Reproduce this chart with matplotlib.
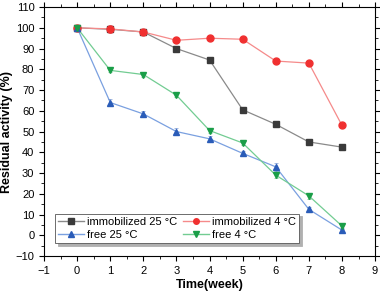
import matplotlib
matplotlib.use("Agg")
import matplotlib.pyplot as plt
from matplotlib.ticker import MultipleLocator

plt.rcParams['font.family'] = ['Liberation Sans', 'DejaVu Sans']

# --- DATA ---
weeks = [0, 1, 2, 3, 4, 5, 6, 7, 8]
immob_25 = [100, 99.3, 98, 90, 84.5, 60.5, 53.5, 45, 42.5]
immob_4 = [100, 99.5, 98, 94, 95, 94.5, 84, 83, 53]
free_25 = [100, 64, 58.5, 50, 46.5, 39.5, 33, 12.5, 2.5]
free_4 = [100, 79.5, 77.5, 67.5, 50.5, 44.5, 29, 19, 4.5]
err_immob_25 = [1, 1.5, 1.5, 1, 1, 1, 1, 1, 1.5]
err_immob_4 = [1, 2, 1.5, 1.5, 1, 1, 1, 1, 1]
err_free_25 = [1.5, 1.5, 1.5, 1.5, 1.5, 1, 2, 1, 1]
err_free_4 = [1, 1, 1, 1, 1, 1, 1.5, 1.5, 1.5]

series = [
    ('immobilized 25 °C', immob_25, err_immob_25, 's', '#3a3a3a', '#8a8a8a'),
    ('immobilized 4 °C', immob_4, err_immob_4, 'o', '#f03030', '#f58a8a'),
    ('free 25 °C', free_25, err_free_25, '^', '#2a5cb8', '#7aa0e0'),
    ('free 4 °C', free_4, err_free_4, 'v', '#1a9e48', '#72cc92'),
]

fig = plt.figure(figsize=(3.8, 2.96), dpi=100)
ax = fig.add_axes([0.116, 0.135, 0.871, 0.841])

handles = {}
for label, vals, err, mk, mc, lc in series:
    ax.plot(weeks, vals, color=lc, lw=0.9, zorder=2)
    ax.errorbar(weeks, vals, yerr=err, fmt='none', ecolor=mc, elinewidth=0.6,
                capsize=1.5, capthick=0.6, alpha=0.5, zorder=3)
    ax.plot(weeks, vals, ls='none', marker=mk, ms=5, color=mc, zorder=4)
    h, = ax.plot([], [], color=lc, lw=1.0, marker=mk, ms=4, mfc=mc, mec=mc, label=label)
    handles[label] = h

ax.set_xlim(-1, 9)
ax.set_ylim(-10, 110)
ax.xaxis.set_major_locator(MultipleLocator(1))
ax.xaxis.set_minor_locator(MultipleLocator(0.5))
ax.yaxis.set_major_locator(MultipleLocator(10))
ax.yaxis.set_minor_locator(MultipleLocator(5))
ax.tick_params(which='both', direction='out', top=True, right=True,
               labeltop=False, labelright=False, labelsize=8)
ax.tick_params(which='major', length=3.5, width=0.8)
ax.tick_params(which='minor', length=2, width=0.6)
for sp in ax.spines.values():
    sp.set_linewidth(0.8)

ax.set_xlabel('Time(week)', fontsize=9, fontweight='bold', labelpad=2)
ax.set_ylabel('Residual activity (%)', fontsize=9, fontweight='bold', labelpad=2)

# column-wise fill -> order so rows read: immob 25 | immob 4, free 25 | free 4
order = ['immobilized 25 °C', 'free 25 °C', 'immobilized 4 °C', 'free 4 °C']
leg = ax.legend([handles[k] for k in order], order,
                loc='lower left', bbox_to_anchor=(0.033, 0.052), ncol=2,
                fontsize=8, frameon=True, fancybox=False,
                shadow={'color': '#b0b0b0', 'alpha': 1},
                handlelength=2.3, columnspacing=0.5, borderpad=0.3,
                labelspacing=0.25, handletextpad=0.3, borderaxespad=0)
leg.get_frame().set_edgecolor('#555555')
leg.get_frame().set_linewidth(0.6)

fig.savefig('out.png', dpi=100)
